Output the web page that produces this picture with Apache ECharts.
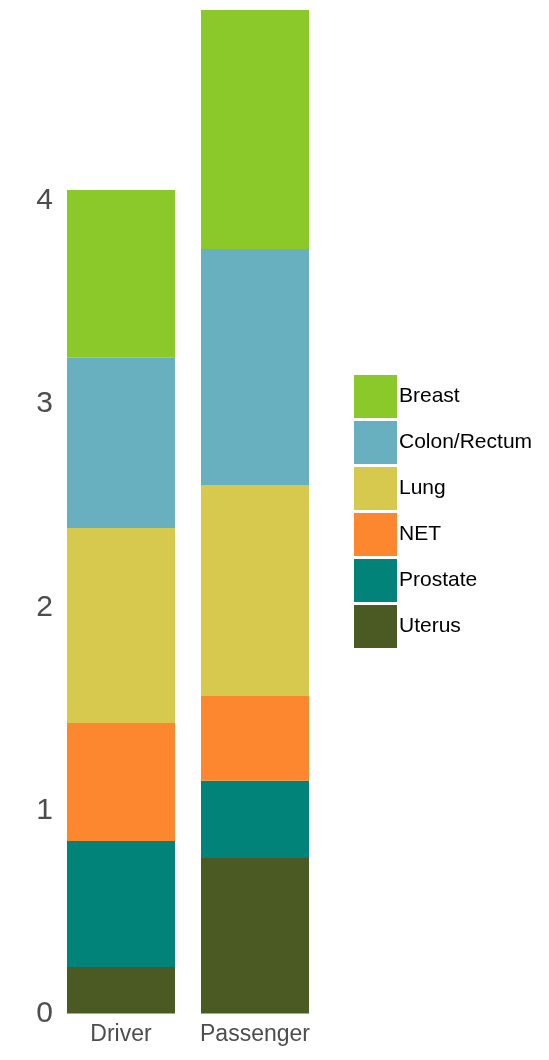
<!DOCTYPE html>
<html>
<head>
<meta charset="utf-8">
<script src="https://cdn.jsdelivr.net/npm/echarts@6/dist/echarts.min.js"></script>
<style>html,body{margin:0;padding:0;background:#fff}#c{width:549px;height:1060px}</style>
</head>
<body>
<div id="c"></div>
<script>
const categories = ['Driver', 'Passenger'];
const uterus   = [0.229, 0.766];
const prostate = [0.620, 0.380];
const net      = [0.581, 0.417];
const lung     = [0.960, 1.039];
const colon    = [0.839, 1.162];
const breast   = [0.826, 1.177];
const yTicks = [0, 1, 2, 3, 4];

const seriesDefs = [
  ['Uterus', uterus, '#4b5923'],
  ['Prostate', prostate, '#01837a'],
  ['NET', net, '#fd872f'],
  ['Lung', lung, '#d6c94e'],
  ['Colon/Rectum', colon, '#68b0c0'],
  ['Breast', breast, '#8bc92a']
];
const totals = categories.map((_, i) => seriesDefs.reduce((s, d) => s + d[1][i], 0));
const yMax = Math.max(...totals);

const chart = echarts.init(document.getElementById('c'));
chart.setOption({
  animation: false,
  grid: { left: 54, width: 268, top: 10, bottom: 46.5, containLabel: false },
  legend: {
    orient: 'vertical', left: 349, top: 370,
    itemWidth: 43, itemHeight: 43, itemGap: 3,
    icon: 'rect',
    data: ['Breast', 'Colon/Rectum', 'Lung', 'NET', 'Prostate', 'Uterus'],
    textStyle: { fontFamily: 'Liberation Sans', fontSize: 21, color: '#000', padding: [4, 0, 0, -3] }
  },
  xAxis: {
    type: 'category', data: categories,
    axisLine: { show: false }, axisTick: { show: false },
    axisLabel: { interval: 0, fontFamily: 'Liberation Sans', fontSize: 23, color: '#4d4d4d', margin: 10 }
  },
  yAxis: {
    type: 'value', min: 0, max: yMax, interval: 1,
    splitLine: { show: false }, axisLine: { show: false }, axisTick: { show: false },
    axisLabel: {
      fontFamily: 'Liberation Sans', fontSize: 30, color: '#4d4d4d', margin: 1,
      padding: [5, 0, 0, 0],
      formatter: v => yTicks.includes(v) ? String(v) : ''
    }
  },
  series: seriesDefs.map(d => ({
    name: d[0], type: 'bar', stack: 'total', data: d[1],
    barCategoryGap: '19.4%',
    itemStyle: { color: d[2] }
  }))
});
</script>
</body>
</html>
